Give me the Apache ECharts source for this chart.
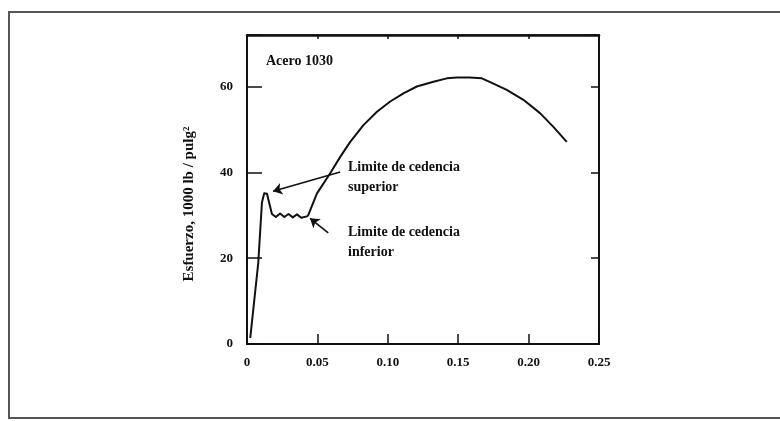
<!DOCTYPE html>
<html><head><meta charset="utf-8">
<script src="https://cdn.jsdelivr.net/npm/echarts@6/dist/echarts.min.js"></script>
<style>html,body{margin:0;padding:0;background:#fff}#c{width:780px;height:421px}</style>
</head><body><div id="c"></div>
<script>
// Strain (in/in) and stress (1000 lb/in^2)
const strain = [0.0023, 0.008, 0.0106, 0.0122, 0.0142, 0.0177, 0.0205, 0.0235, 0.0265, 0.0295, 0.0325, 0.0355, 0.0385, 0.0432,
  0.0497, 0.0591, 0.0662, 0.0733, 0.0827, 0.0923, 0.1017, 0.1111, 0.1206, 0.1324, 0.1419, 0.149, 0.158, 0.1668, 0.1727,
  0.1845, 0.1963, 0.2081, 0.2176, 0.2271];
const stress = [1.4, 18.9, 32.9, 35.1, 35.0, 30.3, 29.6, 30.4, 29.6, 30.3, 29.5, 30.2, 29.4, 29.8,
  35.1, 39.8, 43.6, 47.1, 51.0, 54.1, 56.5, 58.4, 60.0, 61.1, 61.9, 62.1, 62.1, 61.9, 61.0,
  59.2, 56.9, 53.8, 50.6, 47.1];
const yieldEnd = 13; // index where work hardening begins
const xTicks = [0, 0.05, 0.10, 0.15, 0.20, 0.25];
const yTicks = [0, 20, 40, 60];
// annotation arrows: [start, end] in data units
const upperArrow = [[0.0662, 40.1], [0.0185, 35.6]];
const lowerArrow = [[0.0577, 25.9], [0.0448, 29.3]];
const label = 'Esfuerzo, 1000 lb / pulg\u00b2';
const note = 'Acero 1030';
const upperText = 'Limite de cedencia\nsuperior';
const lowerText = 'Limite de cedencia\ninferior';

const fontFam = '"Liberation Serif", "DejaVu Serif", serif';
const chart = echarts.init(document.getElementById('c'), null, {renderer: 'canvas'});
const pts = strain.map((x, i) => [x, stress[i]]);
const xLabel = v => (v === 0 ? '0' : v.toFixed(2));
const axisFont = {color: '#111', fontFamily: fontFam, fontWeight: 'bold', fontSize: 13};
chart.setOption({
  animation: false,
  backgroundColor: '#fff',
  grid: {left: 247, right: 181, top: 35, bottom: 77, show: true, borderColor: '#111', borderWidth: 1.5},
  xAxis: [{
    type: 'value', min: 0, max: 0.25, interval: 0.05, position: 'bottom',
    axisLine: {show: true, onZero: false, lineStyle: {color: '#111', width: 2}},
    axisTick: {show: true, inside: true, length: 10, lineStyle: {color: '#111', width: 1.5}},
    axisLabel: Object.assign({margin: 12, customValues: xTicks, formatter: v => xLabel(v)}, axisFont),
    splitLine: {show: false}
  }, {
    type: 'value', min: 0, max: 0.25, interval: 0.05, position: 'top',
    axisLine: {show: true, onZero: false, lineStyle: {color: '#111', width: 2.5}},
    axisTick: {show: true, inside: true, length: 4, lineStyle: {color: '#111', width: 1.5}},
    axisLabel: {show: false}, splitLine: {show: false}
  }],
  yAxis: [{
    type: 'value', min: 0, max: 72, interval: 20, position: 'left',
    axisLine: {show: true, onZero: false, lineStyle: {color: '#111', width: 2}},
    axisTick: {show: true, inside: true, length: 15, lineStyle: {color: '#111', width: 1.5}},
    axisLabel: Object.assign({margin: 14, customValues: yTicks, formatter: v => String(v)}, axisFont),
    splitLine: {show: false}
  }, {
    type: 'value', min: 0, max: 72, interval: 20, position: 'right',
    axisLine: {show: true, onZero: false, lineStyle: {color: '#111', width: 2}},
    axisTick: {show: true, inside: true, length: 8, lineStyle: {color: '#111', width: 1.5}},
    axisLabel: {show: false}, splitLine: {show: false}
  }],
  series: [{
    type: 'line', data: pts.slice(0, yieldEnd + 1), smooth: false, showSymbol: false, symbol: 'none',
    lineStyle: {color: '#111', width: 2, join: 'round'},
    markLine: {
      silent: true, animation: false,
      lineStyle: {color: '#111', width: 1.6, type: 'solid'},
      label: {show: false},
      symbolSize: 9,
      data: [
        [{coord: upperArrow[0], symbol: 'none'}, {coord: upperArrow[1], symbol: 'arrow'}],
        [{coord: lowerArrow[0], symbol: 'none'}, {coord: lowerArrow[1], symbol: 'arrow'}]
      ]
    }
  }, {
    type: 'line', data: pts.slice(yieldEnd), smooth: false, showSymbol: false, symbol: 'none',
    lineStyle: {color: '#111', width: 2, join: 'round'}
  }],
  graphic: [
    {type: 'rect', shape: {x: 9, y: 12, width: 800, height: 406}, style: {fill: 'none', stroke: '#555', lineWidth: 2}, silent: true},
    {type: 'text', x: 189, y: 204, rotation: Math.PI / 2,
      style: {text: label, fill: '#111', font: 'bold 15px ' + fontFam, align: 'center', verticalAlign: 'middle'}},
    {type: 'text', left: 266, top: 54, style: {text: note, fill: '#111', font: 'bold 14px ' + fontFam}},
    {type: 'text', left: 348, top: 157, style: {text: upperText, fill: '#111', font: 'bold 14px ' + fontFam, lineHeight: 20}},
    {type: 'text', left: 348, top: 222, style: {text: lowerText, fill: '#111', font: 'bold 14px ' + fontFam, lineHeight: 20}}
  ]
});
</script>
</body></html>
